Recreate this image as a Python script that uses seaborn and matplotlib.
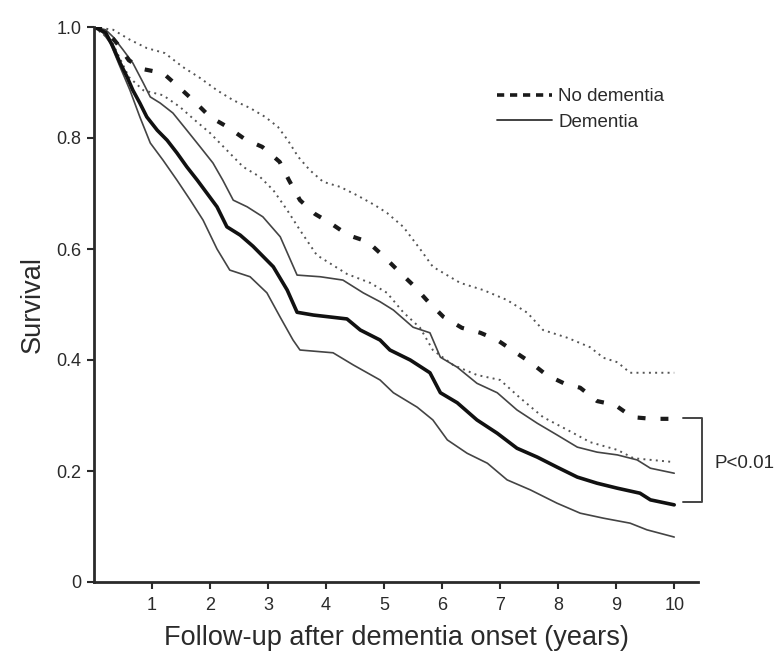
import matplotlib
matplotlib.use("Agg")
import matplotlib.pyplot as plt
from matplotlib.lines import Line2D
import seaborn as sns

# survival estimates (years, survival)
nodem_x = [0, 0.2, 0.4, 0.6, 0.85, 1.19, 1.48, 1.74, 2.0, 2.3, 2.6, 2.9, 3.2, 3.36, 3.55,
           3.81, 4.07, 4.38, 4.72, 5.0, 5.26, 5.5, 5.76, 6.02, 6.34, 6.66, 6.95, 7.26,
           7.52, 7.8, 8.1, 8.38, 8.67, 8.98, 9.28, 9.62, 10.0]
nodem_y = [1.0, 0.995, 0.97, 0.94, 0.924, 0.917, 0.89, 0.865, 0.838, 0.82, 0.798, 0.784,
           0.757, 0.724, 0.688, 0.663, 0.647, 0.625, 0.613, 0.586, 0.559, 0.535, 0.505,
           0.478, 0.458, 0.449, 0.436, 0.414, 0.396, 0.373, 0.358, 0.35, 0.326, 0.319,
           0.297, 0.294, 0.294]

nodem_hi_x = [0, 0.33, 0.62, 0.91, 1.22, 1.53, 1.83, 2.12, 2.4, 2.69, 2.95, 3.17, 3.34,
              3.52, 3.72, 3.95, 4.24, 4.53, 4.84, 5.05, 5.33, 5.62, 5.84, 6.31, 6.71,
              7.12, 7.47, 7.74, 8.16, 8.55, 8.78, 9.02, 9.24, 10.0]
nodem_hi_y = [1.0, 0.995, 0.977, 0.962, 0.953, 0.928, 0.908, 0.886, 0.868, 0.854, 0.838,
              0.82, 0.796, 0.766, 0.742, 0.721, 0.712, 0.697, 0.679, 0.665, 0.64, 0.6,
              0.568, 0.539, 0.526, 0.508, 0.485, 0.454, 0.44, 0.423, 0.404, 0.396, 0.377,
              0.377]

nodem_lo_x = [0, 0.3, 0.6, 0.85, 1.19, 1.48, 1.74, 2.0, 2.29, 2.57, 2.86, 3.09, 3.33, 3.55,
              3.84, 4.36, 4.76, 5.05, 5.33, 5.62, 5.84, 6.19, 6.6, 7.0, 7.34, 7.74, 8.16,
              8.55, 9.02, 9.3, 10.0]
nodem_lo_y = [1.0, 0.975, 0.91, 0.886, 0.877, 0.856, 0.832, 0.809, 0.778, 0.748, 0.73,
              0.706, 0.67, 0.634, 0.589, 0.555, 0.539, 0.521, 0.486, 0.458, 0.418, 0.391,
              0.373, 0.364, 0.332, 0.297, 0.274, 0.252, 0.238, 0.223, 0.216]

dem_x = [0, 0.2, 0.33, 0.45, 0.57, 0.67, 0.79, 0.91, 1.09, 1.26, 1.43, 1.6, 1.78, 1.95,
         2.12, 2.29, 2.52, 2.74, 3.09, 3.33, 3.5, 3.78, 4.36, 4.59, 4.93, 5.1, 5.45, 5.79,
         5.97, 6.26, 6.6, 6.95, 7.29, 7.64, 7.98, 8.33, 8.67, 9.02, 9.41, 9.59, 10.0]
dem_y = [1.0, 0.99, 0.964, 0.935, 0.91, 0.886, 0.863, 0.838, 0.814, 0.796, 0.773, 0.748,
         0.724, 0.7, 0.676, 0.64, 0.625, 0.605, 0.568, 0.526, 0.486, 0.481, 0.474, 0.454,
         0.436, 0.418, 0.4, 0.377, 0.341, 0.323, 0.292, 0.268, 0.241, 0.225, 0.207, 0.189,
         0.178, 0.169, 0.16, 0.148, 0.139]

dem_hi_x = [0, 0.2, 0.33, 0.5, 0.67, 0.85, 0.97, 1.14, 1.36, 1.6, 1.83, 2.05, 2.22, 2.4,
            2.64, 2.91, 3.21, 3.5, 3.9, 4.29, 4.64, 4.93, 5.16, 5.5, 5.79, 5.97, 6.26, 6.6,
            6.95, 7.29, 7.64, 7.98, 8.33, 8.67, 9.02, 9.36, 9.59, 10.0]
dem_hi_y = [1.0, 0.995, 0.982, 0.959, 0.935, 0.899, 0.874, 0.863, 0.845, 0.814, 0.784,
            0.755, 0.724, 0.688, 0.676, 0.658, 0.622, 0.553, 0.55, 0.544, 0.521, 0.505,
            0.49, 0.459, 0.449, 0.405, 0.387, 0.358, 0.341, 0.31, 0.286, 0.265, 0.243,
            0.234, 0.229, 0.22, 0.205, 0.196]

dem_lo_x = [0, 0.15, 0.28, 0.45, 0.62, 0.79, 0.97, 1.19, 1.43, 1.66, 1.88, 2.12, 2.34, 2.69,
            2.98, 3.21, 3.43, 3.55, 4.12, 4.47, 4.93, 5.16, 5.57, 5.84, 6.09, 6.43, 6.78,
            7.12, 7.52, 7.98, 8.38, 8.78, 9.24, 9.53, 10.0]
dem_lo_y = [1.0, 0.99, 0.971, 0.928, 0.886, 0.838, 0.791, 0.76, 0.724, 0.688, 0.652, 0.6,
            0.562, 0.55, 0.521, 0.477, 0.436, 0.418, 0.413, 0.391, 0.364, 0.341, 0.315,
            0.292, 0.256, 0.232, 0.214, 0.184, 0.166, 0.142, 0.124, 0.115, 0.106, 0.094,
            0.081]

x_ticks = [1, 2, 3, 4, 5, 6, 7, 8, 9, 10]
y_ticks = [0, 0.2, 0.4, 0.6, 0.8, 1.0]
y_tick_labels = ["0", "0.2", "0.4", "0.6", "0.8", "1.0"]

sns.set_style("ticks")
plt.rcParams["font.family"] = ["Liberation Sans", "DejaVu Sans"]

fig = plt.figure(figsize=(7.79, 6.55), dpi=100)
ax = fig.add_axes([94 / 779, 73 / 655, 604 / 779, 555 / 655])

ink = "#2a2a2a"

# confidence bands, dotted for no dementia, thin solid for dementia
for xs, ys in [(nodem_hi_x, nodem_hi_y), (nodem_lo_x, nodem_lo_y)]:
    sns.lineplot(x=xs, y=ys, ax=ax, color="#555555", lw=1.4, linestyle=(0, (1, 2.2)),
                 estimator=None, sort=False)
for xs, ys in [(dem_hi_x, dem_hi_y), (dem_lo_x, dem_lo_y)]:
    sns.lineplot(x=xs, y=ys, ax=ax, color="#444444", lw=1.2, estimator=None, sort=False)

sns.lineplot(x=nodem_x, y=nodem_y, ax=ax, color="#1a1a1a", lw=3.0,
             linestyle=(0, (1.9, 3.6)), estimator=None, sort=False)
sns.lineplot(x=dem_x, y=dem_y, ax=ax, color="#111111", lw=2.6, estimator=None, sort=False)

ax.set_xlim(0, 10.41)
ax.set_ylim(0, 1.0)
ax.set_xticks(x_ticks)
ax.set_yticks(y_ticks)
ax.set_yticklabels(y_tick_labels)
ax.tick_params(axis="both", labelsize=13, colors=ink, length=5, width=1.5, pad=4)
ax.tick_params(axis="x", pad=6)
for side in ["left", "bottom"]:
    ax.spines[side].set_linewidth(2)
    ax.spines[side].set_color(ink)
ax.spines["top"].set_visible(False)
ax.spines["right"].set_visible(False)

ax.set_xlabel("Follow-up after dementia onset (years)", fontsize=19.5, color=ink, labelpad=8)
ax.set_ylabel("Survival", fontsize=19.5, color=ink, labelpad=8)

handles = [
    Line2D([], [], color="#1a1a1a", lw=2.6, linestyle=(0, (2, 1.6))),
    Line2D([], [], color="#333333", lw=1.3),
]
ax.legend(handles, ["No dementia", "Dementia"], frameon=False, fontsize=13.5,
          loc="upper left", bbox_to_anchor=(0.64, 0.92), handlelength=2.9,
          handletextpad=0.35, labelspacing=0.45, labelcolor=ink)

# significance bracket on the right
ax.plot([10.16, 10.48, 10.48, 10.16], [0.295, 0.295, 0.144, 0.144], color="#444444",
        lw=1.4, clip_on=False)
ax.text(10.7, 0.214, "P<0.01", fontsize=13.5, color=ink, ha="left", va="center",
        clip_on=False)

fig.savefig("out.png", dpi=100)
